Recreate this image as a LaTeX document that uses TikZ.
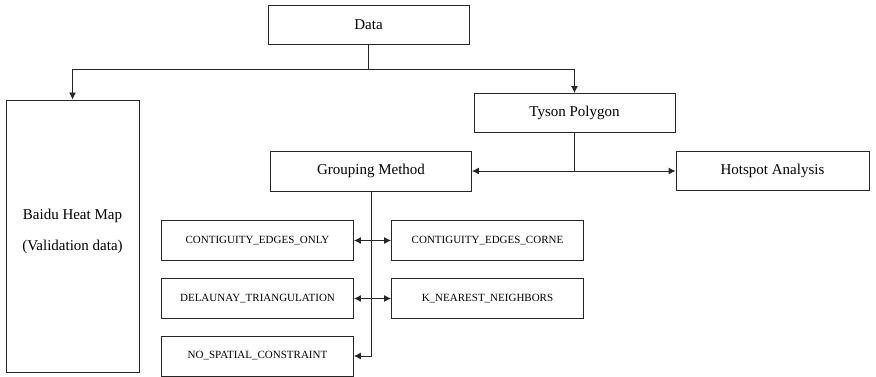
\documentclass[tikz,border=0pt]{standalone}
\usepackage{fontspec}
\setmainfont{Liberation Serif}
\usetikzlibrary{arrows.meta}
\begin{document}
\begin{tikzpicture}[x=1pt,y=-1pt,
  box/.style={draw=black!85,line width=0.9pt,minimum width=#1,inner sep=0pt,font=\fontsize{15}{18}\selectfont},
  sbox/.style={draw=black!85,line width=0.9pt,minimum width=192pt,minimum height=40pt,inner sep=0pt,font=\fontsize{11}{13}\selectfont},
  conn/.style={line width=0.9pt,black!85},
  arr/.style={conn,-{Latex[length=7pt,width=7pt]}},
  darr/.style={conn,{Latex[length=7pt,width=7pt]}-{Latex[length=7pt,width=7pt]}}]
\useasboundingbox (0,0) rectangle (876,377);
\node[box=201pt,minimum height=39pt] (data) at (368.5,25) {Data};
\node[box=133pt,minimum height=272pt] (baidu) at (72.5,236) {};
\node[font=\fontsize{15}{18}\selectfont,align=center] (baidutext) at (72.5,231) {Baidu Heat Map\\[13pt](Validation data)};
\node[box=201pt,minimum height=39pt] (tyson) at (574.5,113) {Tyson Polygon};
\node[box=201pt,minimum height=40pt] (grouping) at (371,171) {Grouping Method};
\node[box=193pt,minimum height=39pt] (hotspot) at (772.5,171) {Hotspot Analysis};
\node[sbox] (ceo) at (257.5,240.5) {CONTIGUITY\_EDGES\_ONLY};
\node[sbox] (cec) at (487.5,240.5) {CONTIGUITY\_EDGES\_CORNE};
\node[sbox] (dt) at (257.5,298.5) {DELAUNAY\_TRIANGULATION};
\node[sbox] (knn) at (487.5,298.5) {K\_NEAREST\_NEIGHBORS};
\node[sbox] (nsc) at (257.5,356) {NO\_SPATIAL\_CONSTRAINT};
\coordinate (j1) at ([yshift=-25pt]data.south);
\draw[conn] (data.south) -- (j1);
\draw[arr] (j1) -| (baidu.north);
\draw[arr] (j1) -| (tyson.north);
\coordinate (j2) at (tyson.south |- grouping.east);
\draw[conn] (tyson.south) -- (j2);
\draw[arr] (j2) -- (grouping.east);
\draw[arr] (j2) -- (hotspot.west);
\draw[arr] (grouping.south) |- (nsc.east);
\draw[darr] (ceo.east) -- (cec.west);
\draw[darr] (dt.east) -- (knn.west);
\end{tikzpicture}
\end{document}
